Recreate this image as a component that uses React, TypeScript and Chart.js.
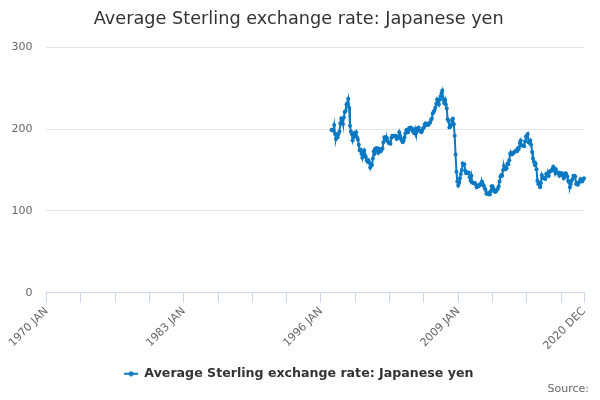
import { useEffect, useRef } from 'react';
import { Chart, registerables } from 'chart.js';

Chart.register(...registerables);

// month names used for the category labels
const months = ['JAN', 'FEB', 'MAR', 'APR', 'MAY', 'JUN', 'JUL', 'AUG', 'SEP', 'OCT', 'NOV', 'DEC'];
const firstYear = 1970;
const lastYear = 2020;
const dataStartYear = 1997;

// monthly averages, yen per pound
const r1997 = [199, 199, 198, 205, 194, 188, 193, 190, 194, 197, 207, 213];
const r1998 = [211, 206, 214, 221, 222, 230, 232, 237, 226, 204, 197, 194];
const r1999 = [186, 190, 195, 193, 196, 190, 187, 181, 174, 175, 170, 165];
const r2000 = [172, 174, 168, 166, 162, 160, 162, 159, 153, 157, 156, 164];
const r2001 = [173, 170, 176, 177, 174, 171, 176, 174, 173, 176, 176, 184];
const r2002 = [190, 190, 187, 189, 185, 183, 183, 182, 189, 192, 191, 192];
const r2003 = [192, 192, 188, 189, 190, 196, 192, 188, 186, 184, 186, 190];
const r2004 = [195, 199, 198, 196, 201, 200, 202, 201, 198, 197, 195, 200];
const r2005 = [195, 198, 201, 202, 198, 198, 196, 198, 201, 202, 206, 207];
const r2006 = [205, 206, 205, 207, 208, 211, 213, 219, 221, 223, 226, 231];
const r2007 = [236, 236, 230, 236, 240, 244, 247, 236, 232, 236, 230, 225];
const r2008 = [212, 210, 202, 203, 205, 211, 213, 206, 192, 169, 148, 136];
const r2009 = [131, 134, 140, 145, 150, 158, 156, 157, 149, 146, 147, 146];
const r2010 = [147, 141, 137, 143, 135, 134, 134, 134, 132, 129, 131, 130];
const r2011 = [131, 133, 132, 136, 133, 131, 128, 126, 121, 121, 122, 121];
const r2012 = [120, 124, 130, 130, 127, 124, 123, 124, 126, 127, 130, 136];
const r2013 = [142, 144, 143, 150, 155, 151, 151, 152, 158, 157, 162, 170];
const r2014 = [171, 169, 170, 171, 172, 173, 174, 173, 177, 176, 183, 186];
const r2015 = [180, 180, 180, 179, 185, 191, 192, 194, 184, 183, 186, 181];
const r2016 = [172, 164, 160, 156, 158, 151, 137, 133, 134, 129, 134, 144];
const r2017 = [141, 140, 140, 139, 145, 143, 146, 143, 148, 149, 149, 151];
const r2018 = [154, 151, 148, 151, 147, 146, 147, 143, 146, 146, 146, 143];
const r2019 = [140, 143, 146, 145, 142, 137, 135, 129, 133, 137, 139, 143];
const r2020 = [143, 142, 133, 134, 132, 134, 136, 139, 137, 136, 138, 140];

const yTicks = [0, 100, 200, 300];

const seriesName = 'Average Sterling exchange rate: Japanese yen';
const BLUE = '#0b79c3';

const labels: string[] = [];
for (let y = firstYear; y <= lastYear; y++) {
  for (const m of months) labels.push(`${y} ${m}`);
}

const values: (number | null)[] = [
  ...new Array((dataStartYear - firstYear) * 12).fill(null),
  ...r1997, ...r1998, ...r1999, ...r2000, ...r2001, ...r2002, ...r2003, ...r2004,
  ...r2005, ...r2006, ...r2007, ...r2008, ...r2009, ...r2010, ...r2011, ...r2012,
  ...r2013, ...r2014, ...r2015, ...r2016, ...r2017, ...r2018, ...r2019, ...r2020,
];

const lastIdx = labels.length - 1;
const showLabel = (i: number) => i % 156 === 0 || i === lastIdx;
const showTick = (i: number) => i % 39 === 0 || i === lastIdx;

export default function App() {
  const canvasRef = useRef<HTMLCanvasElement>(null);

  useEffect(() => {
    if (!canvasRef.current) return;

    // legend symbol: line with a dot in the middle
    const sym = document.createElement('canvas');
    sym.width = 14;
    sym.height = 6;
    const sctx = sym.getContext('2d')!;
    sctx.strokeStyle = BLUE;
    sctx.lineWidth = 2;
    sctx.beginPath();
    sctx.moveTo(0, 3);
    sctx.lineTo(14, 3);
    sctx.stroke();
    sctx.fillStyle = BLUE;
    sctx.beginPath();
    sctx.arc(7, 3, 2.5, 0, Math.PI * 2);
    sctx.fill();

    const sourcePlugin = {
      id: 'sourceNote',
      afterDraw(chart: any) {
        const c = chart.ctx;
        c.save();
        c.font = '11px "DejaVu Sans", sans-serif';
        c.fillStyle = '#666666';
        c.textAlign = 'right';
        c.textBaseline = 'middle';
        c.fillText('Source:', 589, 389);
        c.restore();
      },
    };

    const chart = new Chart(canvasRef.current, {
      type: 'line',
      data: {
        labels,
        datasets: [
          {
            label: seriesName,
            data: values,
            borderColor: BLUE,
            backgroundColor: BLUE,
            borderWidth: 2,
            pointRadius: 2,
            pointBorderWidth: 0,
            pointBackgroundColor: BLUE,
            tension: 0,
          },
        ],
      },
      options: {
        animation: false,
        responsive: false,
        layout: { padding: { left: -2.5, right: 0, top: 0, bottom: 10 } },
        font: { family: '"DejaVu Sans", sans-serif' },
        plugins: {
          title: {
            display: true,
            text: seriesName,
            color: '#333333',
            font: { family: '"DejaVu Sans", sans-serif', size: 17.7, weight: 'normal' },
            padding: { top: 9, bottom: 17 },
          },
          legend: {
            position: 'bottom',
            labels: {
              usePointStyle: true,
              pointStyle: sym,
              pointStyleWidth: 14,
              color: '#333333',
              font: { family: '"DejaVu Sans", sans-serif', size: 12.6, weight: 'bold' },
              padding: 12.7,
            },
          },
          tooltip: { enabled: false },
        },
        scales: {
          x: {
            type: 'category',
            offset: false,
            border: { display: true, color: '#ccd6eb', width: 1 },
            grid: {
              drawOnChartArea: false,
              drawTicks: true,
              tickLength: 10,
              color: (ctx: any) => (showTick(ctx.index) ? '#ccd6eb' : 'rgba(0,0,0,0)'),
            },
            ticks: {
              autoSkip: false,
              maxRotation: 45,
              minRotation: 45,
              padding: 2,
              color: '#666666',
              font: { family: '"DejaVu Sans", sans-serif', size: 11 },
              callback: (_v: any, i: number) => (showLabel(i) ? labels[i] : ''),
            },
          },
          y: {
            min: 0,
            max: 300,
            border: { display: false },
            grid: { color: '#e6e6e6', drawTicks: false },
            afterBuildTicks: (scale: any) => {
              scale.ticks = yTicks.map((v) => ({ value: v }));
            },
            ticks: {
              padding: 14,
              color: '#666666',
              font: { family: '"DejaVu Sans", sans-serif', size: 11 },
            },
          },
          // empty right-hand spacer so the plot ends where the reference does
          spacer: {
            type: 'linear',
            position: 'right',
            display: true,
            grid: { display: false, drawTicks: false },
            border: { display: false },
            ticks: { display: false },
            afterFit: (scale: any) => {
              scale.width = 16;
            },
          },
        },
      },
      plugins: [sourcePlugin],
    });

    return () => chart.destroy();
  }, []);

  return (
    <div style={{ position: 'absolute', left: 0, top: 0, width: 600, height: 400, background: '#fff' }}>
      <canvas ref={canvasRef} width={600} height={400} />
    </div>
  );
}
